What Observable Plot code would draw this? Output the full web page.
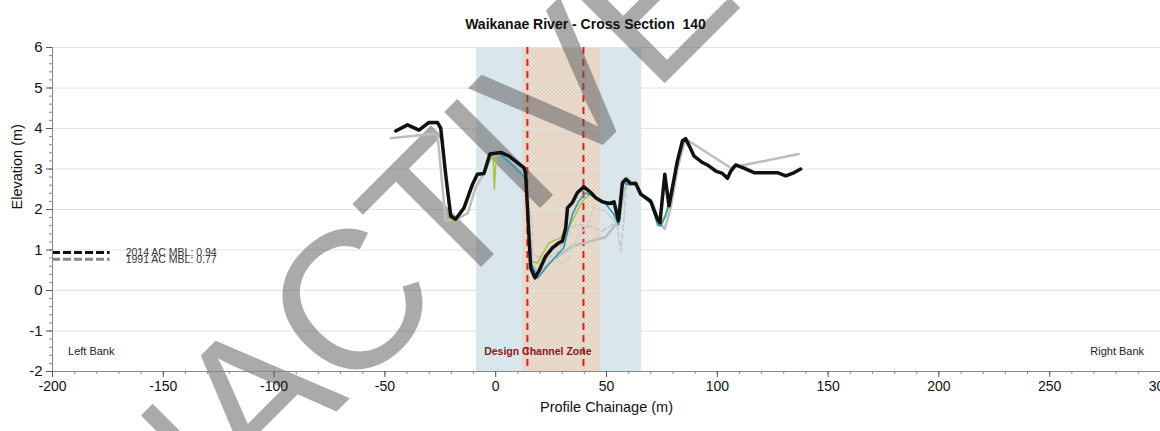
<!DOCTYPE html>
<html><head><meta charset="utf-8">
<script src="https://cdn.jsdelivr.net/npm/d3@7"></script>
<script src="https://cdn.jsdelivr.net/npm/@observablehq/plot@0.6"></script>
<style>
body{margin:0;background:#fff;}
#chart svg{overflow:hidden;display:block}
g[aria-description="watermark"] text{letter-spacing:-4px}
</style></head><body><div id="chart"></div>
<script>
const titleText = "Waikanae River - Cross Section  140";
const xLabel = "Profile Chainage (m)";
const yLabel = "Elevation (m)";
const xTicks = [-200,-150,-100,-50,0,50,100,150,200,250,300];
const yTicks = [-2,-1,0,1,2,3,4,5,6];
const xMinor = d3.range(-200, 301, 10);
const yMinor = d3.range(-2, 6.01, 0.2);
const gridY = [-1,0,1,2,3,4,5,6];

const outerZone = [-8.6, 65.9];
const designZone = [12.2, 47.4];
const designLines = [14.3, 39.6];
const zoneLabel = "Design Channel Zone";
const bankLabels = ["Left Bank", "Right Bank"];

const mblValues = [0.94, 0.77];
const mblLabels = ["2014 AC MBL: 0.94", "1991 AC MBL: 0.77"];
const watermark = "INACTIVE";

const chain2014 = [-45.1,-39.8,-34.6,-30.1,-26.3,-24.8,-22.6,-20.3,-18.1,-14.3,-10.5,-8.3,-5.3,-2.6,2.3,6.0,12.8,13.5,15.8,17.7,19.5,22.6,25.6,28.6,30.1,31.6,32.4,34.6,36.9,39.8,42.9,45.1,48.1,51.1,53.4,55.4,57.2,58.7,60.9,63.2,65.4,69.9,73.0,74.1,76.3,78.2,82.0,84.3,85.7,87.7,89.5,93.3,95.5,99.3,102.3,104.6,106.0,108.3,112.0,116.6,122.6,127.1,130.9,133.9,137.6];
const elev2014 = [3.94,4.09,3.96,4.15,4.15,4.01,2.88,1.84,1.76,2.04,2.62,2.87,2.89,3.37,3.41,3.32,3.03,2.88,0.56,0.31,0.48,0.85,1.05,1.18,1.22,1.55,2.04,2.17,2.42,2.56,2.42,2.29,2.19,2.15,2.19,1.72,2.66,2.75,2.64,2.64,2.38,2.21,1.76,1.67,2.87,2.09,3.20,3.70,3.75,3.53,3.32,3.16,3.10,2.95,2.89,2.77,2.94,3.10,3.02,2.91,2.91,2.91,2.83,2.89,3.00];

const chain1991 = [-47.4,-28.0,-26.2,-22.6,-17.6,-12.6,-9.0,-5.4,-2.3,0.9,5.9,12.2,14.0,15.8,19.0,27.1,34.7,42.9,49.6,53.2,56.0,57.8,59.6,63.2,66.3,70.8,74.0,76.3,79.0,82.1,85.7,106.0,136.7];
const elev1991 = [3.76,3.87,3.82,1.72,1.76,1.91,2.56,2.88,3.27,3.37,3.27,2.95,2.58,0.68,0.43,0.80,1.10,1.22,1.32,1.57,1.76,2.46,2.68,2.61,2.36,2.16,1.67,1.52,2.04,3.03,3.74,3.03,3.37];

const chainGreen = [-30.1,-26.3,-24.8,-22.8,-20.5,-18.8,-14.5,-10.5,-8.3,-5.3,-2.6,-1.2,-0.6,0.2,2.3,6.0,12.8,13.5,15.8,18.8,24.1,29.3,31.6,34.6,38.4,39.8,42.9,45.1,48.1,53.4,55.4,57.2,58.7,60.9,63.2,65.4,69.9,73.1,74.5,78.2,82.1,85.7];
const elevGreen = [4.12,4.12,3.98,2.9,1.8,1.67,2.0,2.55,2.85,2.88,3.3,3.35,2.5,3.35,3.38,3.3,3.0,2.85,0.73,0.68,1.18,1.30,1.43,1.72,2.13,2.25,2.38,2.3,2.19,2.19,1.67,2.66,2.74,2.64,2.69,2.38,2.21,1.72,1.67,2.04,3.2,3.77];

const chainTeal = [-2.6,0.9,4.5,11.3,13.5,15.8,19.0,23.9,30.7,32.5,34.7,37.5,40.6,42.9,49.6,53.2,55.5,57.3,60.0,63.2,65.4,69.9,73.1,74.5,76.7,81.2,84.4];
const elevTeal = [3.33,3.40,3.25,2.9,2.75,0.68,0.31,0.65,1.05,1.47,1.89,2.21,2.41,2.36,2.14,1.89,1.62,2.66,2.61,2.63,2.36,2.16,1.62,1.59,1.84,2.95,3.65];

const chainLight = [13.5,15.3,17.1,20.8,27.1,30.2,32.9,37.0,40.6,44.2,49.6,54.2];
const elevLight = [2.81,1.47,0.68,0.68,0.78,0.68,0.80,1.34,1.54,2.04,1.96,1.67];

const chainDash = [13.1,16.5,16.7,22.0,28.0,33.8,36.9,42.1,48.1,52.7,54.9,56.4,57.9,59.4,61.0];
const elevDash = [2.83,1.6,0.9,0.75,0.95,1.55,1.63,1.59,1.47,1.63,1.59,0.97,1.80,2.83,2.70];

const pts = (xs, ys) => xs.map((x, i) => ({x, y: ys[i]}));
const font = "Liberation Sans, Arial, sans-serif";
const fmt = d => String(Math.round(d));

const chart = Plot.plot({
  width: 1160, height: 431,
  marginLeft: 52, marginRight: 0, marginTop: 47, marginBottom: 60,
  style: {fontFamily: font, fontSize: "14px", color: "#222", background: "#fff"},
  x: {domain: [-200, 300], label: null},
  y: {domain: [-2, 6], label: null},
  marks: [
    Plot.rect([outerZone], {x1: d => d[0], x2: d => d[1], fill: "url(#hatchBlue)"}),
    Plot.rect([designZone], {x1: d => d[0], x2: d => d[1], fill: "url(#hatchBrown)"}),
    Plot.ruleY(gridY, {stroke: "#e2e2e2", strokeWidth: 1}),
    Plot.ruleX(designLines, {stroke: "#d32222", strokeWidth: 2, strokeDasharray: "7,5"}),
    Plot.text([watermark], {frameAnchor: "top-left", text: d => d, dx: 71, dy: 577, rotate: -45,
      fontSize: 197, fill: "#555", fillOpacity: 0.5, textAnchor: "start", lineAnchor: "bottom",
      fontFamily: font, ariaDescription: "watermark"}),
    Plot.line(pts(chain1991, elev1991), {x: "x", y: "y", stroke: "#bdbdbd", strokeWidth: 2.5}),
    Plot.line(pts(chainLight, elevLight), {x: "x", y: "y", stroke: "#d0d0d0", strokeWidth: 1.6}),
    Plot.line(pts(chainDash, elevDash), {x: "x", y: "y", stroke: "#c6c6c6", strokeWidth: 1.6, strokeDasharray: "5,3"}),
    Plot.line(pts(chainGreen, elevGreen), {x: "x", y: "y", stroke: "#a9c23f", strokeWidth: 1.5}),
    Plot.line(pts(chainTeal, elevTeal), {x: "x", y: "y", stroke: "#2a9bb5", strokeWidth: 1.6}),
    Plot.line(pts(chain2014, elev2014), {x: "x", y: "y", stroke: "#111", strokeWidth: 3.5, strokeLinejoin: "round"}),
    Plot.ruleY([mblValues[0]], {x1: () => -200, x2: () => -174, stroke: "#111", strokeWidth: 3, strokeDasharray: "8,3"}),
    Plot.ruleY([mblValues[1]], {x1: () => -200, x2: () => -174, stroke: "#888", strokeWidth: 3, strokeDasharray: "8,3"}),
    Plot.text(mblValues, {x: () => -167, y: d => d, text: (d, i) => mblLabels[i], textAnchor: "start", fontSize: 10.5, fill: "#333"}),
    Plot.text([bankLabels[0]], {x: () => -193, y: () => -1.5, text: d => d, textAnchor: "start", fontSize: 11, fill: "#222"}),
    Plot.text([bankLabels[1]], {x: () => 292.6, y: () => -1.5, text: d => d, textAnchor: "end", fontSize: 11, fill: "#222"}),
    Plot.text([zoneLabel], {x: () => 19, y: () => -1.5, text: d => d, textAnchor: "middle", fontSize: 10.5, fontWeight: "bold", fill: "#8b1a1a"}),
    Plot.ruleX([-200], {stroke: "#888"}),
    Plot.ruleY([-2], {stroke: "#888"}),
    Plot.axisX(xMinor, {tickSize: 3, tickFormat: () => "", stroke: "#888", label: null}),
    Plot.axisX(xTicks, {tickSize: 6, tickPadding: 4, stroke: "#555", fontSize: 14, fill: "#111", tickFormat: fmt, label: null}),
    Plot.axisY(yMinor, {tickSize: 3, tickFormat: () => "", stroke: "#888", label: null}),
    Plot.axisY(yTicks, {tickSize: 6, tickPadding: 4, stroke: "#555", fontSize: 15, fill: "#111", tickFormat: fmt, label: null}),
    Plot.text([xLabel], {frameAnchor: "bottom", text: d => d, dy: 40, fontSize: 14.5, fill: "#111"}),
    Plot.text([yLabel], {frameAnchor: "left", text: d => d, dx: -35, rotate: -90, fontSize: 14.5, fill: "#111"}),
    Plot.text([titleText], {frameAnchor: "top-left", text: d => d, dx: 533, dy: -28, textAnchor: "middle",
      fontSize: 14, fontWeight: "bold", fill: "#111"})
  ]
});

// fine cross-hatch textures for the shaded zones
const svg = d3.select(chart);
const defs = svg.insert("defs", ":first-child");
function hatch(id, base, line) {
  const p = defs.append("pattern").attr("id", id).attr("patternUnits", "userSpaceOnUse")
    .attr("width", 4).attr("height", 4);
  p.append("rect").attr("width", 4).attr("height", 4).attr("fill", base);
  p.append("path").attr("d", "M0,4L4,0M0,0L4,4").attr("stroke", line).attr("stroke-width", 0.6);
}
hatch("hatchBlue", "#dfebf0", "#c9dce3");
hatch("hatchBrown", "#ecdfd2", "#d9c7b5");
document.getElementById("chart").appendChild(chart);
</script></body></html>
